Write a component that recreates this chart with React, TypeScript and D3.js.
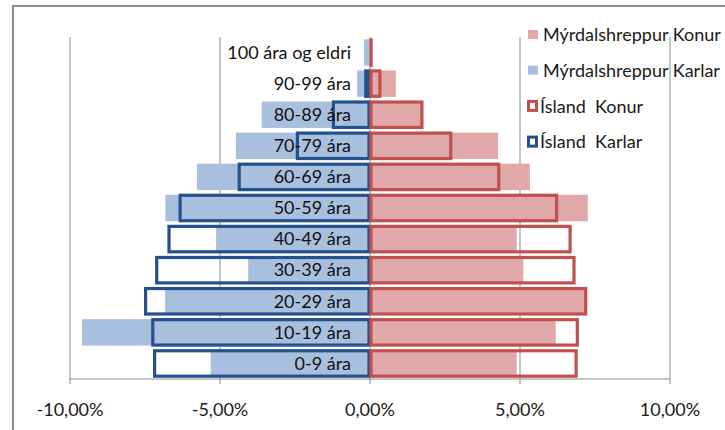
import React from "react";
import * as d3 from "d3";

const categories = ["0-9 ára", "10-19 ára", "20-29 ára", "30-39 ára", "40-49 ára", "50-59 ára", "60-69 ára", "70-79 ára", "80-89 ára", "90-99 ára", "100 ára og eldri"];
const myrdalKonur = [4.89, 6.19, 7.17, 5.11, 4.89, 7.26, 5.33, 4.27, 1.72, 0.86, 0];
const myrdalKarlar = [-5.31, -9.6, -6.83, -4.06, -5.13, -6.82, -5.77, -4.47, -3.61, -0.43, -0.2];
const islandKonur = [6.87, 6.91, 7.19, 6.8, 6.67, 6.22, 4.29, 2.69, 1.73, 0.33, 0.03];
const islandKarlar = [-7.18, -7.24, -7.48, -7.11, -6.7, -6.33, -4.36, -2.42, -1.22, -0.14, -0.03];
const xTicks = [-10, -5, 0, 5, 10];
const legendItems = [
  { label: "Mýrdalshreppur Konur", kind: "fill", color: "#e0a8a8" },
  { label: "Mýrdalshreppur Karlar", kind: "fill", color: "#a8c0de" },
  { label: "Ísland  Konur", kind: "outline", color: "#c0504d" },
  { label: "Ísland  Karlar", kind: "outline", color: "#24508c" },
];

const W = 725;
const H = 430;
const FONT = "Lato, 'Open Sans', sans-serif";

const locale = d3.formatLocale({ decimal: ",", thousands: ".", grouping: [3], currency: ["", "€"], minus: "-" });
const fmt = locale.format(".2%");

export default function App() {
  const x = d3.scaleLinear().domain([-10, 10]).range([70, 670]);
  const y = d3
    .scaleBand<string>()
    .domain([...categories].reverse())
    .range([37, 379])
    .paddingInner(0.15)
    .paddingOuter(0.075);
  const bw = y.bandwidth();
  const x0 = x(0);
  const axisY = 379;

  return (
    <svg width={W} height={H} style={{ position: "absolute", left: 0, top: 0, background: "#fff" }}>
      <rect x={0} y={0} width={W} height={H} fill="#fff" />
      <path d={`M13,${H} V6 H${W}`} fill="none" stroke="#8a8a8a" strokeWidth={2} />

      {/* legend */}
      {legendItems.map((it, i) => {
        const cy = 35 + i * 35.7;
        return (
          <g key={it.label}>
            {it.kind === "fill" ? (
              <rect x={528} y={cy - 5} width={10} height={9} fill={it.color} />
            ) : (
              <rect x={528.5} y={cy - 5} width={8} height={9} fill="none" stroke={it.color} strokeWidth={3} />
            )}
            <text x={it.kind === "fill" ? 543 : 540} y={cy} dy="0.35em" fontFamily={FONT} fontSize={18} fill="#1a1a1a" style={{ whiteSpace: "pre" }}>
              {it.label}
            </text>
          </g>
        );
      })}

      {/* gridlines */}
      {xTicks.filter((t) => t !== 0).map((t) => (
        <line key={t} x1={x(t)} x2={x(t)} y1={37} y2={axisY} stroke="#8c8c8c" strokeWidth={1} />
      ))}
      <line x1={x0} x2={x0} y1={37} y2={axisY} stroke="#8c8c8c" strokeWidth={1} />

      {/* Mýrdalshreppur bars */}
      {categories.map((c, i) => (
        <g key={c}>
          <rect x={x(myrdalKarlar[i])} y={y(c)} width={x0 - x(myrdalKarlar[i])} height={bw} fill="#a8c0de" />
          <rect x={x0} y={y(c)} width={x(myrdalKonur[i]) - x0} height={bw} fill="#e0a8a8" />
        </g>
      ))}

      {/* Ísland outlines */}
      {categories.map((c, i) => (
        <g key={c + "-is"}>
          <rect x={x(islandKarlar[i])} y={(y(c) as number) + 0.5} width={x0 - x(islandKarlar[i]) - 1} height={bw - 1} fill="none" stroke="#24508c" strokeWidth={3.2} />
          <rect x={x0 + 1} y={(y(c) as number) + 0.5} width={Math.max(0.1, x(islandKonur[i]) - x0 - 1)} height={bw - 1} fill="none" stroke="#c0504d" strokeWidth={3.2} />
        </g>
      ))}

      {/* x axis */}
      <line x1={x(-10)} x2={x(10)} y1={axisY} y2={axisY} stroke="#8c8c8c" strokeWidth={1} />
      {xTicks.map((t) => (
        <g key={"t" + t}>
          <line x1={x(t)} x2={x(t)} y1={axisY} y2={axisY + 5} stroke="#8c8c8c" strokeWidth={1} />
          <text x={x(t)} y={416} textAnchor="middle" fontFamily={FONT} fontSize={18} fill="#1a1a1a">
            {fmt(t / 100)}
          </text>
        </g>
      ))}

      {/* category labels */}
      {categories.map((c) => (
        <text key={"l" + c} x={351} y={(y(c) as number) + bw / 2} dy="0.35em" textAnchor="end" fontFamily={FONT} fontSize={18} fill="#111">
          {c}
        </text>
      ))}
    </svg>
  );
}
